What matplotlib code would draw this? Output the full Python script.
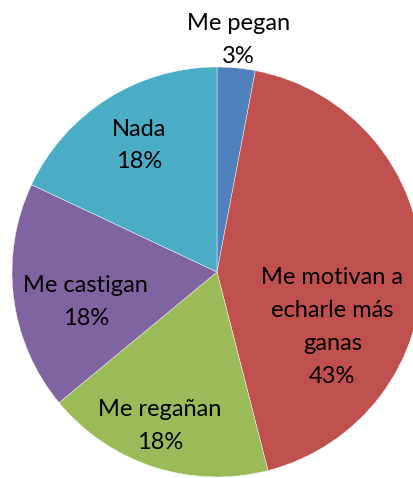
import matplotlib.pyplot as plt

labels = ["Me pegan", "Me motivan a\necharle más\nganas", "Me regañan", "Me castigan", "Nada"]
values = [3, 43, 18, 18, 18]
colors = ["#4F81BD", "#C0504D", "#9BBB59", "#8064A2", "#4BACC6"]
# label centres in axes data units (pie radius = 1)
label_pos = [(0.105, 1.13), (0.563, -0.27), (-0.278, -0.75), (-0.64, -0.146), (-0.38, 0.617)]

plt.rcParams['font.family'] = ['Lato', 'DejaVu Sans']

fig = plt.figure(figsize=(4.14, 4.78), dpi=100)
r_px = 205
cx, cy = 217, 272
ax = fig.add_axes([(cx - r_px) / 414, (478 - cy - r_px) / 478, 2 * r_px / 414, 2 * r_px / 478])
ax.pie(values, colors=colors, startangle=90, counterclock=False, radius=1,
       wedgeprops=dict(linewidth=0.3, edgecolor="white"))
ax.set_xlim(-1, 1)
ax.set_ylim(-1, 1)
ax.set_aspect("equal")
ax.axis("off")

for lab, v, (x, y) in zip(labels, values, label_pos):
    ax.text(x, y, f"{lab}\n{v}%", ha="center", va="center", fontsize=17,
            linespacing=1.7, color="black", clip_on=False)

fig.savefig("out.png", dpi=100)
